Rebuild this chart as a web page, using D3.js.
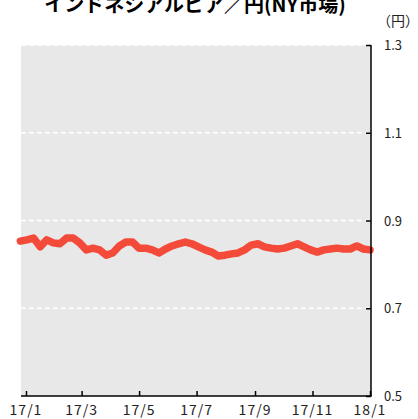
<!DOCTYPE html>
<html>
<head>
<meta charset="utf-8">
<script src="https://cdn.jsdelivr.net/npm/d3@7"></script>
<style>
  body { margin: 0; background: #fff; }
  svg text { font-family: "Noto Sans CJK JP", "DejaVu Sans", sans-serif; }
</style>
</head>
<body>
<svg id="chart" width="418" height="419"></svg>
<script>
// weekly rate, starting 2016-12-26
var startDate = "2016-12-26";
var rates = [0.853, 0.856, 0.860, 0.840, 0.856, 0.849, 0.847, 0.860, 0.860, 0.849,
             0.833, 0.837, 0.833, 0.821, 0.826, 0.842, 0.851, 0.851, 0.837, 0.837,
             0.833, 0.826, 0.835, 0.842, 0.847, 0.851, 0.847, 0.840, 0.833, 0.828,
             0.819, 0.821, 0.824, 0.826, 0.833, 0.844, 0.847, 0.840, 0.837, 0.835,
             0.837, 0.842, 0.847, 0.840, 0.833, 0.828, 0.833, 0.835, 0.837, 0.835,
             0.835, 0.842, 0.835, 0.833];
var xTickLabels = ["17/1", "17/3", "17/5", "17/7", "17/9", "17/11", "18/1"];
var xTickDates = ["2017-01-01", "2017-03-01", "2017-05-01", "2017-07-01", "2017-09-01", "2017-11-01", "2018-01-01"];
var yTicks = [0.5, 0.7, 0.9, 1.1, 1.3];

var parse = d3.timeParse("%Y-%m-%d");
var t0 = parse(startDate);
var data = rates.map(function(v, i) { return { date: d3.timeDay.offset(t0, i * 7), v: v }; });

var svg = d3.select("#chart");
var pLeft = 21, pRight = 371, pTop = 45, pBottom = 396;

var x = d3.scaleTime()
    .domain([parse("2017-01-01"), parse("2018-01-01")])
    .range([26, 370]);
var y = d3.scaleLinear().domain([0.5, 1.3]).range([pBottom, pTop]);

// background
svg.append("rect")
    .attr("x", pLeft).attr("y", pTop)
    .attr("width", pRight - pLeft).attr("height", pBottom - pTop)
    .attr("fill", "#e8e8e8");

// grid
svg.selectAll(".grid").data(yTicks.slice(1))
    .enter().append("line")
    .attr("x1", pLeft).attr("x2", pRight)
    .attr("y1", function(d) { return y(d); })
    .attr("y2", function(d) { return y(d); })
    .attr("stroke", "#fff")
    .attr("stroke-width", 1.5)
    .attr("stroke-dasharray", "5,3");

// the line
var line = d3.line()
    .x(function(d) { return x(d.date); })
    .y(function(d) { return y(d.v); });

svg.append("path")
    .datum(data)
    .attr("d", line)
    .attr("fill", "none")
    .attr("stroke", "#f44a3a")
    .attr("stroke-width", 7.5)
    .attr("stroke-linejoin", "round")
    .attr("stroke-linecap", "round");

// axes
var xAxis = d3.axisTop(x)
    .tickValues(xTickDates.map(parse))
    .tickSize(5)
    .tickFormat("");
var gx = svg.append("g").attr("transform", "translate(0," + pBottom + ")").call(xAxis);
gx.select(".domain").remove();
gx.selectAll("line").attr("stroke", "#000").attr("stroke-width", 1.5);

svg.append("line")
    .attr("x1", pLeft).attr("x2", pRight + 0.75)
    .attr("y1", pBottom).attr("y2", pBottom)
    .attr("stroke", "#000").attr("stroke-width", 1.5);

var yAxis = d3.axisLeft(y).tickValues(yTicks).tickSize(5).tickFormat("");
var gy = svg.append("g").attr("transform", "translate(" + pRight + ",0)").call(yAxis);
gy.select(".domain").remove();
gy.selectAll("line").attr("stroke", "#000").attr("stroke-width", 1.5);

svg.append("line")
    .attr("x1", pRight).attr("x2", pRight)
    .attr("y1", pTop).attr("y2", pBottom)
    .attr("stroke", "#000").attr("stroke-width", 1.5);

// tick labels
svg.selectAll(".xl").data(xTickDates)
    .enter().append("text")
    .attr("x", function(d) { return x(parse(d)); })
    .attr("y", 415)
    .attr("text-anchor", "middle")
    .attr("font-size", 14)
    .attr("letter-spacing", 1)
    .attr("fill", "#222")
    .text(function(d, i) { return xTickLabels[i]; });

svg.selectAll(".yl").data(yTicks)
    .enter().append("text")
    .attr("x", 384)
    .attr("y", function(d) { return y(d) + 5; })
    .attr("font-size", 13)
    .attr("fill", "#222")
    .text(function(d) { return d.toFixed(1); });

// titles
svg.append("text")
    .attr("x", 195).attr("y", 12)
    .attr("text-anchor", "middle")
    .attr("font-size", 20)
    .attr("font-weight", "bold")
    .attr("fill", "#000")
    .text("インドネシアルピア／円(NY市場)");

svg.append("text")
    .attr("x", 377).attr("y", 26)
    .attr("font-size", 14)
    .attr("fill", "#222")
    .text("（円）");
</script>
</body>
</html>
